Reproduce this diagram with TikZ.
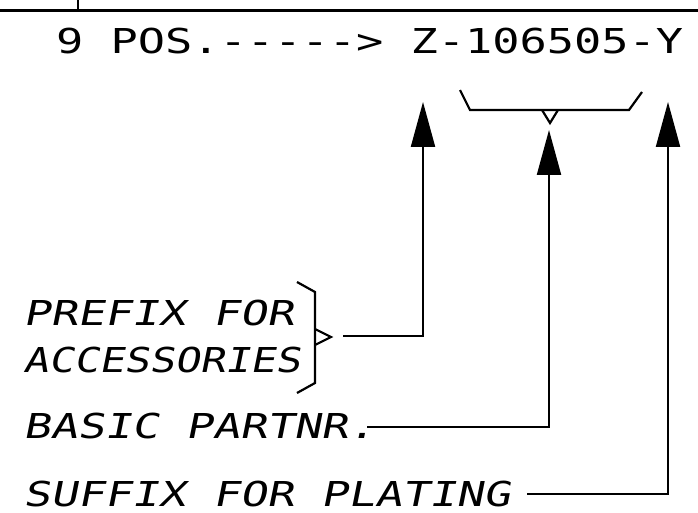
\documentclass[tikz,border=0pt]{standalone}
\usepackage{fontspec}
\usetikzlibrary{arrows.meta}
\newfontfamily\titlefont{DejaVu Sans Mono}[FakeStretch=1.32]
\newfontfamily\labelfont{DejaVu Sans Mono}[FakeStretch=1.31,FakeSlant=0.2]
\newfontfamily\acclabelfont{DejaVu Sans Mono}[FakeStretch=1.22,FakeSlant=0.2]
\tikzset{
  plot/.style={line width=2.2pt, line join=miter},
  conn/.style={plot, -{Triangle[length=45pt,width=24pt]}},
  title/.style={anchor=base west, inner sep=0pt, text depth=0pt, font=\titlefont\fontsize{34.3}{40}\selectfont},
  lab/.style={anchor=base west, inner sep=0pt, text depth=0pt, font=\labelfont\fontsize{34.3}{40}\selectfont},
  acclab/.style={lab, font=\acclabelfont\fontsize{34.3}{40}\selectfont},
}
\begin{document}
\begin{tikzpicture}[x=1pt,y=-1pt]
\useasboundingbox (0,0) rectangle (698,513);
% top frame remnants
\draw[line width=3pt] (0,11) -- (698,11);
\draw[plot] (78,0) -- (78,11);
% title
\node[title] (ttl) at (56,54) {9 POS.-----> Z-106505-Y};
% brace under 106505
\draw[plot] (460,90) -- (470,110) -- (629,110) -- (642,92);
\draw[plot] (542,110) -- (550,123) -- (558,110);
% labels
\node[lab] (pre1) at (23,325) {PREFIX FOR};
\node[acclab] (pre2) at (23,372) {ACCESSORIES};
\node[lab] (basic) at (23,438) {BASIC PARTNR.};
\node[lab] (suffix) at (23,506) {SUFFIX FOR PLATING};
% bracket for prefix
\draw[plot] (297,282) -- (315,292) -- (315,383) -- (297,393);
\draw[plot] (315,329) -- (331,337) -- (315,345);
% connector ends
\coordinate (preS) at (343,336);
\coordinate (basS) at (367,427);
\coordinate (sufS) at (527,494);
\coordinate (tipA) at (423,102);
\coordinate (tipB) at (549,130);
\coordinate (tipC) at (668,102);
\draw[conn] (preS) -| (tipA);
\draw[conn] (basS) -| (tipB);
\draw[conn] (sufS) -| (tipC);
\end{tikzpicture}
\end{document}
